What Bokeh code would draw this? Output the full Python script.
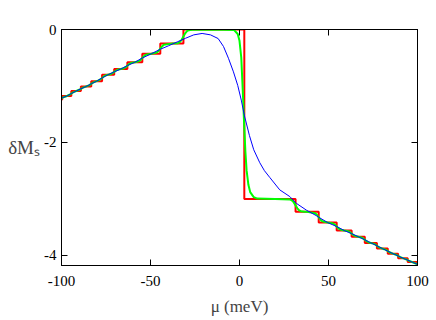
from bokeh.plotting import figure
from bokeh.models import Range1d, LinearAxis, FixedTicker
from bokeh.embed import file_html
from bokeh.resources import INLINE

# ---- data ----
x_ticks = [-100, -50, 0, 50, 100]
y_ticks = [-4, -2, 0]
x_tick_text = ["-100", "-50", "0", "50", "100"]
y_tick_text = ["-4", "-2", "0"]

# sharp staircase (red): plateau start positions and levels
red_mu = [-100, -99.6, -94.5, -89.1, -83.3, -77.2, -70.4, -63.0, -54.6, -44.5, -31.5,
          2.7, 31.5, 44.5, 54.6, 63.0, 70.4, 77.2, 83.3, 89.1, 94.5, 99.6, 100]
red_dm = [-1.24, -1.18, -1.09, -1.01, -0.915, -0.80, -0.70, -0.58, -0.43, -0.25, 0.0,
          -3.0, -3.23, -3.42, -3.56, -3.67, -3.78, -3.88, -3.97, -4.05, -4.12, -4.19, -4.19]

# slightly rounded staircase (green)
green_mu = [-100, -99.6, -98.6, -97.6, -97.05, -96.5, -95.5, -94.5, -93.5, -92.5, -91.8,
            -91.1, -90.1, -89.1, -88.1, -87.1, -86.2, -85.3, -84.3, -83.3, -82.3, -81.3,
            -80.25, -79.2, -78.2, -77.2, -76.2, -75.2, -73.8, -72.4, -71.4, -70.4, -69.4,
            -68.4, -66.7, -65.0, -64.0, -63.0, -62.0, -61.0, -58.8, -56.6, -55.6, -54.6,
            -53.6, -52.6, -49.55, -46.5, -45.5, -44.5, -43.5, -42.5, -38.0, -34.5, -33.5,
            -32.5, -31.5, -30.5, -29.5, -28.5, -26.5, -15.0, -3.0, -1.0, 0.0, 1.0, 2.0,
            2.5, 3.3, 4.0, 5.0, 6.0, 8.0, 10.0, 20.0, 28.5, 29.5, 30.5, 31.5, 32.5, 33.5,
            34.5, 36.5, 38.0, 42.5, 43.5, 44.5, 45.5, 46.5, 49.55, 52.6, 53.6, 54.6, 55.6,
            56.6, 58.8, 61.0, 62.0, 63.0, 64.0, 65.0, 66.7, 68.4, 69.4, 70.4, 71.4, 72.4,
            73.8, 75.2, 76.2, 77.2, 78.2, 79.2, 80.25, 81.3, 82.3, 83.3, 84.3, 85.3, 86.2,
            87.1, 88.1, 89.1, 90.1, 91.1, 91.8, 92.5, 93.5, 94.5, 95.5, 96.5, 97.05, 97.6,
            98.6, 99.6, 100.0]
green_dm = [-1.216, -1.21, -1.196, -1.187, -1.18, -1.169, -1.156, -1.135, -1.114, -1.101, -1.09,
            -1.080, -1.068, -1.05, -1.032, -1.020, -1.01, -0.999, -0.984, -0.962, -0.941, -0.926,
            -0.915, -0.901, -0.884, -0.858, -0.831, -0.814, -0.80, -0.788, -0.773, -0.75, -0.727,
            -0.712, -0.70, -0.686, -0.668, -0.64, -0.612, -0.594, -0.58, -0.562, -0.540, -0.505,
            -0.47, -0.448, -0.43, -0.408, -0.381, -0.34, -0.299, -0.272, -0.25, -0.243, -0.22,
            -0.182, -0.125, -0.068, -0.03, -0.0125, -0.003, 0.0, -0.01, -0.08, -0.2, -0.5, -1.2,
            -1.6, -2.16, -2.5, -2.75, -2.88, -2.97, -2.995, -3.0, -3.012, -3.028, -3.062, -3.115, -3.168, -3.202,
            -3.218, -3.228, -3.23, -3.253, -3.281, -3.325, -3.369, -3.397, -3.42, -3.437, -3.458, -3.49, -3.522,
            -3.543, -3.56, -3.573, -3.59, -3.615, -3.64, -3.657, -3.67, -3.683, -3.70, -3.725, -3.75, -3.767,
            -3.78, -3.792, -3.807, -3.83, -3.853, -3.868, -3.88, -3.891, -3.904, -3.925, -3.946, -3.959, -3.97,
            -3.98, -3.992, -4.01, -4.028, -4.04, -4.05, -4.058, -4.069, -4.085, -4.101, -4.112, -4.12, -4.128,
            -4.139, -4.155, -4.165]

# strongly smoothed curve (blue)
blue_mu = [-100, -99.6, -97.05, -94.5, -91.8, -89.1, -86.2, -83.3, -80.25, -77.2, -73.8,
           -70.4, -66.7, -63.0, -58.8, -54.6, -49.55, -44.5, -40.0, -35.0, -30.3, -25.7,
           -21.0, -16.3, -12.0, -9.0, -6.2, -3.4, -1.0, 1.0, 2.8, 5.6, 8.0, 11.4, 14.0,
           17.0, 22.6, 28.3, 32.0, 37.6, 43.3, 44.5, 49.55, 54.6, 58.8, 63.0, 66.7, 70.4,
           73.8, 77.2, 80.25, 83.3, 86.2, 89.1, 91.8, 94.5, 97.05, 99.6, 100.0]
blue_dm = [-1.225, -1.21, -1.18, -1.135, -1.09, -1.05, -1.01, -0.962, -0.915, -0.858, -0.80,
           -0.75, -0.70, -0.64, -0.58, -0.505, -0.43, -0.35, -0.29, -0.22, -0.155, -0.095,
           -0.07, -0.095, -0.16, -0.30, -0.51, -0.75, -0.99, -1.25, -1.53, -1.88, -2.13, -2.36, -2.5,
           -2.62, -2.84, -2.96, -3.08, -3.2, -3.3, -3.325, -3.42, -3.49, -3.56, -3.615, -3.67, -3.725,
           -3.78, -3.83, -3.88, -3.925, -3.97, -4.01, -4.05, -4.085, -4.12, -4.155, -4.16]

FONT = "Liberation Serif"

p = figure(width=430, height=318, output_backend="svg", toolbar_location=None,
           x_range=Range1d(-100, 100), y_range=Range1d(-4.18, 0.0),
           min_border_left=61, min_border_right=13, min_border_top=29, min_border_bottom=53)
p.background_fill_color = "white"
p.border_fill_color = "white"
p.outline_line_color = "black"
p.xgrid.visible = False
p.ygrid.visible = False

def style_axis(ax, ticks, labels):
    ax.ticker = FixedTicker(ticks=ticks)
    ax.major_tick_in = 6
    ax.major_tick_out = 0
    ax.minor_tick_in = 0
    ax.minor_tick_out = 0
    ax.axis_line_color = "black"
    ax.major_tick_line_color = "black"
    ax.major_label_text_font = FONT
    ax.major_label_text_color = "black"
    ax.major_label_text_font_size = "15px"
    ax.major_label_overrides = {t: s for t, s in zip(ticks, labels)}

style_axis(p.xaxis[0], x_ticks, x_tick_text)
style_axis(p.yaxis[0], y_ticks, y_tick_text)
p.xaxis[0].major_label_standoff = 10
p.yaxis[0].major_label_standoff = 5
p.xaxis[0].axis_label = "μ (meV)"
p.xaxis[0].axis_label_text_font = FONT
p.xaxis[0].axis_label_text_font_style = "normal"
p.xaxis[0].axis_label_text_font_size = "17px"
p.xaxis[0].axis_label_standoff = 8

p.yaxis[0].axis_label = "δMₛ"
p.yaxis[0].axis_label_orientation = "horizontal"
p.yaxis[0].axis_label_text_font = FONT
p.yaxis[0].axis_label_text_font_style = "normal"
p.yaxis[0].axis_label_text_font_size = "19px"
p.yaxis[0].axis_label_standoff = 1

top_ax = LinearAxis()
right_ax = LinearAxis()
style_axis(top_ax, x_ticks, ["" for _ in x_ticks])
style_axis(right_ax, y_ticks, ["" for _ in y_ticks])
top_ax.major_label_standoff = 0
right_ax.major_label_standoff = 0
p.add_layout(top_ax, "above")
p.add_layout(right_ax, "right")

p.step(red_mu, red_dm, mode="after", line_color="#ff0000", line_width=2)
p.line(green_mu, green_dm, line_color="#00ff00", line_width=2)
p.line(blue_mu, blue_dm, line_color="#0000ff", line_width=1)

open("out.html", "w").write(file_html(p, INLINE))
